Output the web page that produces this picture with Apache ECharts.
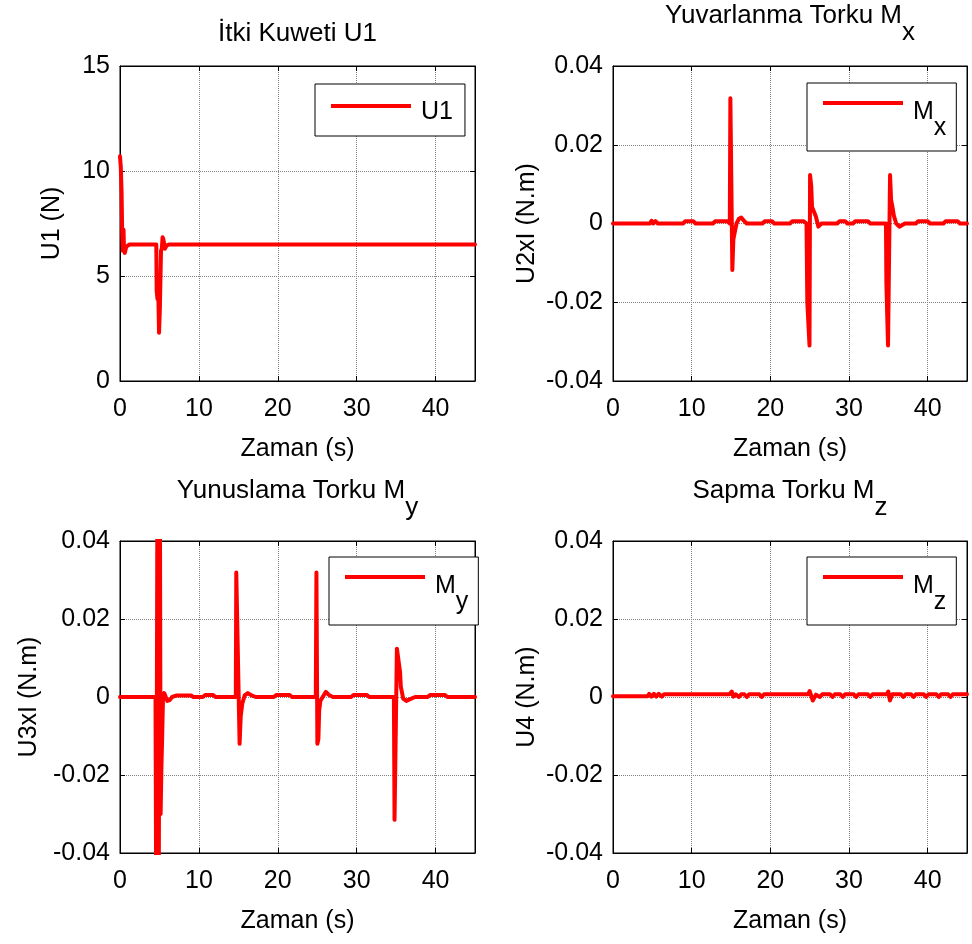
<!DOCTYPE html>
<html><head><meta charset="utf-8">
<script src="https://cdn.jsdelivr.net/npm/echarts@6/dist/echarts.min.js"></script>
<style>html,body{margin:0;padding:0;background:#fff}#c{width:972px;height:944px}</style>
</head><body><div id="c"></div>
<script>
// ---- data (time in s, value) ----
const timeTicks = [0, 10, 20, 30, 40];
const timeMax = 45;
const u1Ticks = [0, 5, 10, 15];
const torqueTicks = [-0.04, -0.02, 0, 0.02, 0.04];

const titles = ['İtki Kuweti U1', 'Yuvarlanma Torku M|x', 'Yunuslama Torku M|y', 'Sapma Torku M|z'];
const yNames = ['U1 (N)', 'U2xI (N.m)', 'U3xI (N.m)', 'U4 (N.m)'];
const seriesNames = ['U1', 'Mx', 'My', 'Mz'];

const u1Samples = [[0,10.7],[0.1,10.2],[0.2,9.0],[0.28,7.0],[0.35,6.2],[0.45,7.2],[0.5,6.3],[0.6,6.1],[0.8,6.4],[1.2,6.5],
  [4.6,6.5],[4.65,4.3],[4.75,3.9],[4.85,4.3],[4.95,2.3],[5.05,3.4],[5.2,6.2],[5.3,6.3],[5.4,6.85],[5.5,6.75],[5.7,6.3],[5.9,6.45],[6.2,6.5],[45,6.5]];

const mxSamples = [[0,0],[4.7,0],[4.9,0.0007],[5.1,0],[5.4,0.0006],[5.7,0],[8.9,0],[9.2,0.0006],[10.2,0.0006],[10.5,0],
  [12.7,0],[13.0,0.0006],[14.5,0.0006],[14.85,0],[14.92,0.0318],[15.17,-0.0118],[15.3,-0.004],[15.5,-0.002],[15.7,0],
  [16.0,0.0012],[16.3,0.0015],[16.6,0.0008],[17.0,0],[19.0,0],[19.3,0.0006],[20.2,0.0006],[20.5,0],[22.5,0],[22.8,0.0006],
  [24.2,0.0006],[24.6,0],[24.7,-0.02],[24.98,-0.031],[25.05,0.0123],[25.2,0.0095],[25.3,0.0042],[25.55,0.003],[25.8,0.0017],
  [26.1,-0.0008],[26.5,0],[28.5,0],[28.8,0.0006],[29.5,0.0006],[29.8,0],[30.5,0],[30.8,0.0006],[32.4,0.0006],[32.7,0],
  [34.7,0],[34.75,-0.015],[34.96,-0.031],[35.22,0.0123],[35.35,0.006],[35.5,0.0045],[35.7,0.002],[36.0,0],[36.4,-0.0008],
  [37.1,0],[38.5,0],[38.8,0.0006],[40.0,0.0006],[40.3,0],[42.0,0],[42.3,0.0006],[43.8,0.0006],[44.1,0],[45,0]];

const mySamples = [[0,0],[4.5,0],[4.6,-0.06],[4.75,0.06],[4.9,-0.06],[5.05,0.06],[5.15,-0.03],[5.25,-0.018],[5.35,-0.01],
  [5.45,0],[5.6,0.001],[5.8,0.0008],[6.0,-0.001],[6.3,-0.0008],[6.6,0],[7.2,0.0004],[9.0,0.0004],[9.3,0],[10.5,0],
  [10.8,0.0005],[11.8,0.0005],[12.1,0],[14.68,0],[14.74,0.0319],[15.16,-0.012],[15.3,-0.005],[15.5,-0.0017],[15.8,0.0004],
  [16.2,0.001],[16.6,0.0005],[17.2,0],[19.5,0],[19.8,0.0005],[21.5,0.0005],[21.8,0],[24.82,0],[24.9,0.0319],[25.02,-0.012],
  [25.15,-0.0107],[25.25,-0.0034],[25.4,-0.001],[25.75,0.0002],[26.1,0.0013],[26.5,0.0005],[27.0,0],[29.3,0],[29.6,0.0005],
  [31.3,0.0005],[31.6,0],[34.72,0],[34.8,-0.0315],[35.1,0.0124],[35.5,0.0064],[35.6,0.0026],[35.9,-0.0004],[36.3,-0.001],
  [36.7,-0.0006],[37.4,0],[39.0,0],[39.3,0.0005],[41.2,0.0005],[41.5,0],[45,0]];

const mzSamples = [[0,0.0002],[4.4,0.0002],[4.6,0.0008],[4.9,0.0001],[5.2,0.0008],[5.5,0.0001],[5.8,0.0008],[6.2,0.0001],
  [6.5,0.0007],[14.8,0.0007],[15.1,0.0014],[15.3,0.0001],[15.6,0.0007],[16.0,0.0],[16.3,0.0007],[16.7,0.0007],[17.0,0.0],
  [17.3,0.0007],[18.6,0.0007],[18.9,0.0],[19.2,0.0007],[24.8,0.0007],[25.0,0.0015],[25.4,-0.0009],[25.8,0.0006],[26.3,0.0],
  [26.6,0.0007],[27.6,0.0007],[27.9,0.0],[28.2,0.0007],[28.9,0.0007],[29.2,0.0],[29.5,0.0007],[30.6,0.0007],[30.9,0.0],
  [31.2,0.0007],[32.4,0.0007],[32.7,0.0],[33.0,0.0007],[34.8,0.0007],[35.0,0.0014],[35.2,-0.0009],[35.5,0.0007],[36.6,0.0007],
  [36.9,0.0],[37.2,0.0007],[37.9,0.0007],[38.2,0.0],[38.5,0.0007],[39.5,0.0007],[39.8,0.0],[40.1,0.0007],[41.1,0.0007],
  [41.4,0.0],[41.7,0.0007],[42.6,0.0007],[42.9,0.0],[43.2,0.0007],[45,0.0007]];

const allSamples = [u1Samples, mxSamples, mySamples, mzSamples];

// ---- layout / style ----
const FONT = '"Liberation Sans", Arial, Helvetica, sans-serif';
const grids = [
  {left: 120, top: 66, width: 355, height: 315},
  {left: 613, top: 66, width: 354, height: 315},
  {left: 120, top: 541, width: 355, height: 312},
  {left: 613, top: 541, width: 354, height: 312}
];
const yNameGaps = [55, 73, 78, 73];
const titleTops = [21, 3, 478, 478];
const legendPos = [
  {left: 315, top: 84, padding: [9, 12, 11, 16]},
  {left: 807, top: 83, padding: [7, 10, 10, 16]},
  {left: 329, top: 557, padding: [7, 10, 10, 16]},
  {left: 807, top: 557, padding: [7, 10, 10, 16]}
];

const xAxes = [], yAxes = [], series = [], titleArr = [], legends = [];
const lbl = {color: '#000', fontSize: 25, fontFamily: FONT};

grids.forEach((g, i) => {
  const isU1 = i === 0;
  const yMin = isU1 ? u1Ticks[0] : torqueTicks[0];
  const yMax = isU1 ? u1Ticks[u1Ticks.length - 1] : torqueTicks[torqueTicks.length - 1];
  const yInt = isU1 ? u1Ticks[1] - u1Ticks[0] : 0.02;
  const yFmt = v => {
    if (Math.abs(v) < 1e-9) return '0';
    return isU1 ? String(Math.round(v)) : v.toFixed(2);
  };
  const commonX = {gridIndex: i, type: 'value', min: 0, max: timeMax, interval: timeTicks[1] - timeTicks[0]};
  xAxes.push(Object.assign({}, commonX, {
    position: 'bottom',
    axisLine: {show: true, onZero: false, lineStyle: {color: '#000', width: 1}},
    axisTick: {show: true, inside: true, length: 5, lineStyle: {color: '#000', width: 1}},
    axisLabel: Object.assign({margin: 16, formatter: v => timeTicks.indexOf(v) >= 0 ? String(v) : ''}, lbl),
    splitLine: {show: true, lineStyle: {type: 'dotted', color: '#808080', width: 1}},
    name: 'Zaman (s)', nameLocation: 'middle', nameGap: 56,
    nameTextStyle: {color: '#000', fontSize: 25, fontFamily: FONT}
  }));
  xAxes.push(Object.assign({}, commonX, {
    position: 'top',
    axisLine: {show: true, onZero: false, lineStyle: {color: '#000', width: 1}},
    axisTick: {show: true, inside: true, length: 5, lineStyle: {color: '#000', width: 1}},
    axisLabel: {show: false}, splitLine: {show: false}
  }));
  const commonY = {gridIndex: i, type: 'value', min: yMin, max: yMax, interval: yInt};
  yAxes.push(Object.assign({}, commonY, {
    position: 'left',
    axisLine: {show: true, onZero: false, lineStyle: {color: '#000', width: 1}},
    axisTick: {show: true, inside: true, length: 5, lineStyle: {color: '#000', width: 1}},
    axisLabel: Object.assign({margin: 10, formatter: yFmt}, lbl),
    splitLine: {show: true, lineStyle: {type: 'dotted', color: '#808080', width: 1}},
    name: yNames[i], nameLocation: 'middle', nameGap: yNameGaps[i], nameRotate: 90,
    nameTextStyle: {color: '#000', fontSize: 25, fontFamily: FONT}
  }));
  yAxes.push(Object.assign({}, commonY, {
    position: 'right',
    axisLine: {show: true, onZero: false, lineStyle: {color: '#000', width: 1}},
    axisTick: {show: true, inside: true, length: 5, lineStyle: {color: '#000', width: 1}},
    axisLabel: {show: false}, splitLine: {show: false}
  }));
  series.push({
    name: seriesNames[i], type: 'line', xAxisIndex: 2 * i, yAxisIndex: 2 * i,
    data: allSamples[i], symbol: 'none', showSymbol: false, clip: true,
    lineStyle: {width: 4, color: '#ff0000', join: 'round', cap: 'round'},
    itemStyle: {color: '#ff0000'}, animation: false, silent: true
  });
  const parts = titles[i].split('|');
  const tText = parts.length > 1 ? '{a|' + parts[0] + '}{s|' + parts[1] + '}' : '{a|' + parts[0] + '}';
  titleArr.push({
    text: tText, left: g.left + g.width / 2, top: titleTops[i], textAlign: 'center', padding: 0,
    textStyle: {
      fontFamily: FONT, fontWeight: 'normal', color: '#000', fontSize: 26,
      rich: {
        a: {fontFamily: FONT, fontSize: 26, lineHeight: 26, color: '#000', verticalAlign: 'top'},
        s: {fontFamily: FONT, fontSize: 26, lineHeight: 26, color: '#000', verticalAlign: 'top', padding: [17, 0, 0, 0]}
      }
    }
  });
  const lp = legendPos[i];
  legends.push({
    data: [seriesNames[i]], left: lp.left, top: lp.top, padding: lp.padding, orient: 'horizontal',
    icon: 'rect', itemWidth: 80, itemHeight: 4, itemGap: 0, selectedMode: false,
    backgroundColor: '#fff', borderColor: '#000', borderWidth: 1, borderRadius: 0,
    formatter: n => n === 'U1' ? '{t|U1}' : '{m|M}{s|' + n.slice(1) + '}',
    textStyle: {
      fontFamily: FONT, fontSize: 25, color: '#000',
      rich: {
        t: {fontFamily: FONT, fontSize: 25, lineHeight: 26, color: '#000', verticalAlign: 'top', padding: [7, 0, 0, 5]},
        m: {fontFamily: FONT, fontSize: 25, lineHeight: 26, color: '#000', verticalAlign: 'top', padding: [10, 0, 0, 5]},
        s: {fontFamily: FONT, fontSize: 25, lineHeight: 26, color: '#000', verticalAlign: 'top', padding: [26, 0, 0, 0]}
      }
    }
  });
});

const chart = echarts.init(document.getElementById('c'), null, {renderer: 'canvas'});
chart.setOption({
  animation: false,
  backgroundColor: '#fff',
  title: titleArr,
  legend: legends,
  grid: grids.map(g => Object.assign({show: true, borderColor: '#000', borderWidth: 1, backgroundColor: 'transparent'}, g)),
  xAxis: xAxes,
  yAxis: yAxes,
  series: series
});
</script>
</body></html>
